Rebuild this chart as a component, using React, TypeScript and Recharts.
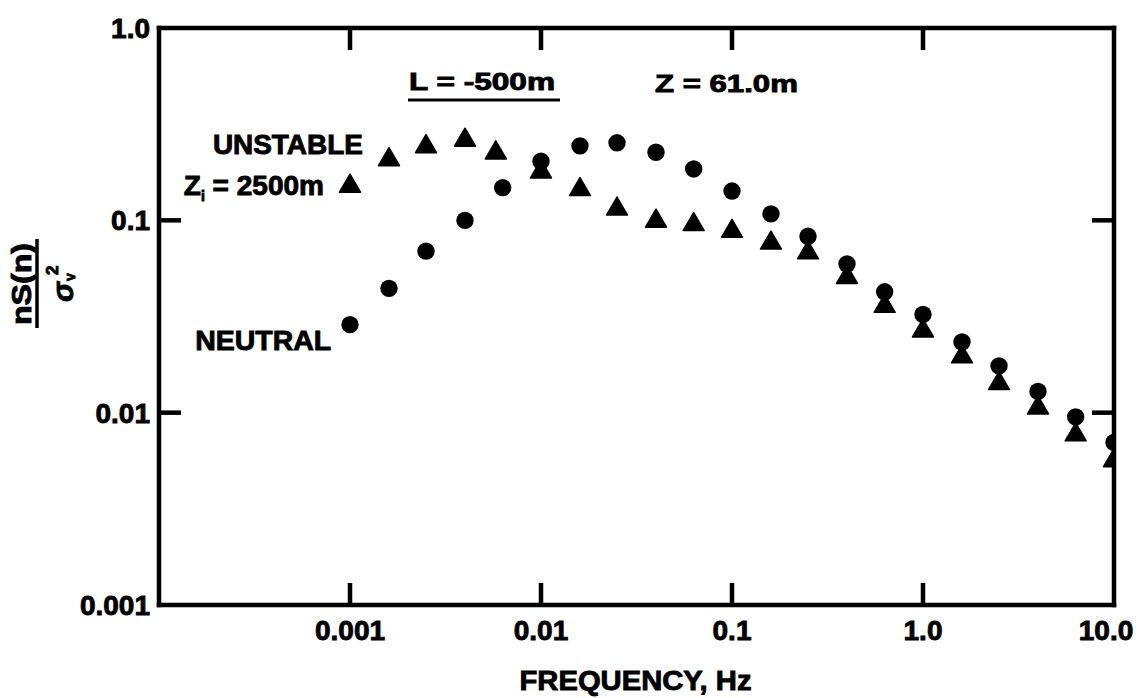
import React from 'react';
import { ScatterChart, Scatter, XAxis, YAxis, ReferenceDot } from 'recharts';

// Frequencies (Hz) of the spectral estimates
const FREQ_NEUTRAL = [0.001, 0.0016, 0.0025, 0.004, 0.0063, 0.01, 0.016, 0.025, 0.04, 0.063, 0.1, 0.16, 0.25, 0.4, 0.63, 1.0, 1.6, 2.5, 4.0, 6.3, 10.0];
const FREQ_UNSTABLE = [0.001, 0.0016, 0.0025, 0.004, 0.0058, 0.01, 0.016, 0.025, 0.04, 0.063, 0.1, 0.16, 0.25, 0.4, 0.63, 1.0, 1.6, 2.5, 4.0, 6.3, 10.0];
// nS(n)/sigma_v^2
const NEUTRAL = [0.0287, 0.0443, 0.0692, 0.1, 0.148, 0.203, 0.244, 0.253, 0.226, 0.185, 0.142, 0.108, 0.0826, 0.0593, 0.0425, 0.0324, 0.0233, 0.0175, 0.0129, 0.0095, 0.007];
const UNSTABLE = [0.155, 0.213, 0.249, 0.269, 0.231, 0.184, 0.149, 0.118, 0.102, 0.098, 0.0904, 0.0785, 0.0698, 0.052, 0.0368, 0.0274, 0.0201, 0.0146, 0.0109, 0.0079, 0.0058];

const X_TICKS = [0.001, 0.01, 0.1, 1, 10];
const X_TICK_LABELS = ['0.001', '0.01', '0.1', '1.0', '10.0'];
const Y_TICKS = [0.001, 0.01, 0.1, 1];
const Y_TICK_LABELS = ['0.001', '0.01', '0.1', '1.0'];
const INNER_X_TICKS = [0.001, 0.01, 0.1, 1];
const INNER_Y_TICKS = [0.01, 0.1];

const X_MIN = 0.0001;
const X_MAX = 10;
const Y_MIN = 0.001;
const Y_MAX = 1;

// annotation anchors (data coordinates)
const ANN_UNSTABLE = { x: 4.73e-4, y: 0.249 };
const ANN_ZI = { x: 3.14e-4, y: 0.153 };
const ANN_NEUTRAL = { x: 3.51e-4, y: 0.0239 };
const ANN_L = { x: 0.00491, y: 0.524 };
const ANN_Z = { x: 0.0935, y: 0.511 };

const neutralData = FREQ_NEUTRAL.map((f, i) => ({ f, v: NEUTRAL[i] }));
const unstableData = FREQ_UNSTABLE.map((f, i) => ({ f, v: UNSTABLE[i] }));

const FONT = '"Liberation Sans", Arial, Helvetica, sans-serif';
const TICK_LEN = 22;
const TICK_STROKE = 4.5;

function findIndex(ticks: number[], v: number) {
  let best = 0;
  for (let i = 0; i < ticks.length; i++) {
    if (Math.abs(Math.log10(ticks[i]) - Math.log10(v)) < Math.abs(Math.log10(ticks[best]) - Math.log10(v))) best = i;
  }
  return best;
}

const heavy = { fontFamily: FONT, fontWeight: 700, fill: '#000', stroke: '#000', strokeWidth: 0.9 } as const;

const BottomTick = (props: any) => {
  const { x, y, payload } = props;
  const i = findIndex(X_TICKS, payload.value);
  const last = i === X_TICKS.length - 1;
  return (
    <g>
      {!last && <rect x={x - TICK_STROKE / 2} y={y - TICK_LEN} width={TICK_STROKE} height={TICK_LEN} fill="#000" />}
      <text x={last ? x - 8 : x} y={y + 35} textAnchor="middle" fontSize={28} style={heavy}>
        {X_TICK_LABELS[i]}
      </text>
    </g>
  );
};

const LeftTick = (props: any) => {
  const { x, y, payload } = props;
  const i = findIndex(Y_TICKS, payload.value);
  const inner = i > 0 && i < Y_TICKS.length - 1;
  return (
    <g>
      {inner && <rect x={x} y={y - TICK_STROKE / 2} width={TICK_LEN} height={TICK_STROKE} fill="#000" />}
      <text x={x - 9} y={y + 10} textAnchor="end" fontSize={28} style={heavy}>
        {Y_TICK_LABELS[i]}
      </text>
    </g>
  );
};

const YTitle = (props: any) => {
  const vb = props.viewBox || { x: 0, y: 20, width: 151, height: 577 };
  const cx = vb.x + 29;
  const cy = vb.y + 256;
  return (
    <g transform={`rotate(-90, ${cx}, ${cy})`} style={heavy}>
      <text x={cx} y={cy - 6} textAnchor="middle" fontSize={27} textLength={82} lengthAdjust="spacingAndGlyphs">nS(n)</text>
      <line x1={cx - 44} x2={cx + 45} y1={cy} y2={cy} stroke="#000" strokeWidth={3.5} />
      <text x={cx - 8} y={cy + 36} textAnchor="middle" fontSize={30} fontStyle="italic">σ</text>
      <text x={cx + 3} y={cy + 38} fontSize={14}>v</text>
      <text x={cx + 9} y={cy + 21} fontSize={17}>2</text>
    </g>
  );
};

const XTitle = (props: any) => {
  const vb = props.viewBox || { x: 151, y: 597, width: 955, height: 60 };
  return (
    <text x={vb.x + vb.width / 2 - 1} y={vb.y + 85} textAnchor="middle" fontSize={28} textLength={232} lengthAdjust="spacingAndGlyphs" style={heavy}>
      FREQUENCY, Hz
    </text>
  );
};

const CircleShape = (p: any) => <circle cx={p.cx} cy={p.cy} r={8.7} fill="#000" />;
const TriShape = (p: any) => (
  <path
    d={`M${p.cx},${p.cy - 9.5}L${p.cx + 10.5},${p.cy + 8.5}L${p.cx - 10.5},${p.cy + 8.5}Z`}
    fill="#000"
    stroke="#000"
    strokeWidth={1.5}
    strokeLinejoin="round"
  />
);

// inward tick marks drawn as filled bars from the anchor point
const DownTick = (p: any) => <rect x={p.cx - TICK_STROKE / 2} y={p.cy} width={TICK_STROKE} height={TICK_LEN} fill="#000" />;
const LeftwardTick = (p: any) => <rect x={p.cx - TICK_LEN} y={p.cy - TICK_STROKE / 2} width={TICK_LEN} height={TICK_STROKE} fill="#000" />;

const UnstableLabel = (p: any) => (
  <text x={p.cx} y={p.cy + 10} textAnchor="middle" fontSize={28} textLength={150} lengthAdjust="spacingAndGlyphs" style={heavy}>UNSTABLE</text>
);
const ZiLabel = (p: any) => (
  <text x={p.cx} y={p.cy + 10} textAnchor="middle" fontSize={28} style={{ ...heavy, whiteSpace: 'pre' }}>
    Z<tspan dy={6} fontSize={14}>i</tspan><tspan dy={-6}> = 2500m</tspan>
  </text>
);
const NeutralLabel = (p: any) => (
  <text x={p.cx} y={p.cy + 10} textAnchor="middle" fontSize={28} textLength={136} lengthAdjust="spacingAndGlyphs" style={heavy}>NEUTRAL</text>
);
const LLabel = (p: any) => (
  <g>
    <text x={p.cx} y={p.cy + 8} textAnchor="middle" fontSize={24} textLength={146} lengthAdjust="spacingAndGlyphs" style={{ ...heavy, whiteSpace: 'pre' }}>L = -500m</text>
    <line x1={p.cx - 74} x2={p.cx + 78} y1={p.cy + 18} y2={p.cy + 18} stroke="#000" strokeWidth={3} />
  </g>
);
const ZLabel = (p: any) => (
  <text x={p.cx} y={p.cy + 8} textAnchor="middle" fontSize={24} textLength={143} lengthAdjust="spacingAndGlyphs" style={{ ...heavy, whiteSpace: 'pre' }}>Z = 61.0m</text>
);

const axisLine = { stroke: '#000', strokeWidth: 4.5, strokeLinecap: 'square' as const };

export default function App() {
  return (
    <div style={{ width: 1134, height: 690, background: '#fff' }}>
      <ScatterChart width={1134} height={690} margin={{ top: 19, right: 27, bottom: 33, left: 0 }}>
        <XAxis xAxisId="b" dataKey="f" type="number" scale="log" domain={[X_MIN, X_MAX]} allowDataOverflow ticks={X_TICKS} interval={0} height={60} axisLine={axisLine} tickLine={false} tickSize={0} tickMargin={0} tick={BottomTick} label={XTitle} />
        <XAxis xAxisId="t" orientation="top" type="number" scale="log" domain={[X_MIN, X_MAX]} allowDataOverflow ticks={INNER_X_TICKS} height={1} axisLine={axisLine} tickLine={false} tick={false} />
        <YAxis yAxisId="l" dataKey="v" type="number" scale="log" domain={[Y_MIN, Y_MAX]} allowDataOverflow ticks={Y_TICKS} interval={0} width={151} axisLine={axisLine} tickLine={false} tickSize={0} tickMargin={0} tick={LeftTick} label={YTitle} />
        <YAxis yAxisId="r" orientation="right" type="number" scale="log" domain={[Y_MIN, Y_MAX]} allowDataOverflow ticks={INNER_Y_TICKS} width={1} axisLine={axisLine} tickLine={false} tick={false} />
        {INNER_X_TICKS.map((t) => (
          <ReferenceDot key={`dt${t}`} xAxisId="b" yAxisId="l" x={t} y={Y_MAX} r={0} ifOverflow="visible" shape={DownTick} />
        ))}
        {INNER_Y_TICKS.map((t) => (
          <ReferenceDot key={`dr${t}`} xAxisId="b" yAxisId="l" x={X_MAX} y={t} r={0} ifOverflow="visible" shape={LeftwardTick} />
        ))}
        <Scatter xAxisId="b" yAxisId="l" name="Neutral" data={neutralData} shape={CircleShape} isAnimationActive={false} />
        <Scatter xAxisId="b" yAxisId="l" name="Unstable" data={unstableData} shape={TriShape} isAnimationActive={false} />
        <ReferenceDot xAxisId="b" yAxisId="l" x={ANN_UNSTABLE.x} y={ANN_UNSTABLE.y} r={0} ifOverflow="visible" shape={UnstableLabel} />
        <ReferenceDot xAxisId="b" yAxisId="l" x={ANN_ZI.x} y={ANN_ZI.y} r={0} ifOverflow="visible" shape={ZiLabel} />
        <ReferenceDot xAxisId="b" yAxisId="l" x={ANN_NEUTRAL.x} y={ANN_NEUTRAL.y} r={0} ifOverflow="visible" shape={NeutralLabel} />
        <ReferenceDot xAxisId="b" yAxisId="l" x={ANN_L.x} y={ANN_L.y} r={0} ifOverflow="visible" shape={LLabel} />
        <ReferenceDot xAxisId="b" yAxisId="l" x={ANN_Z.x} y={ANN_Z.y} r={0} ifOverflow="visible" shape={ZLabel} />
      </ScatterChart>
    </div>
  );
}
